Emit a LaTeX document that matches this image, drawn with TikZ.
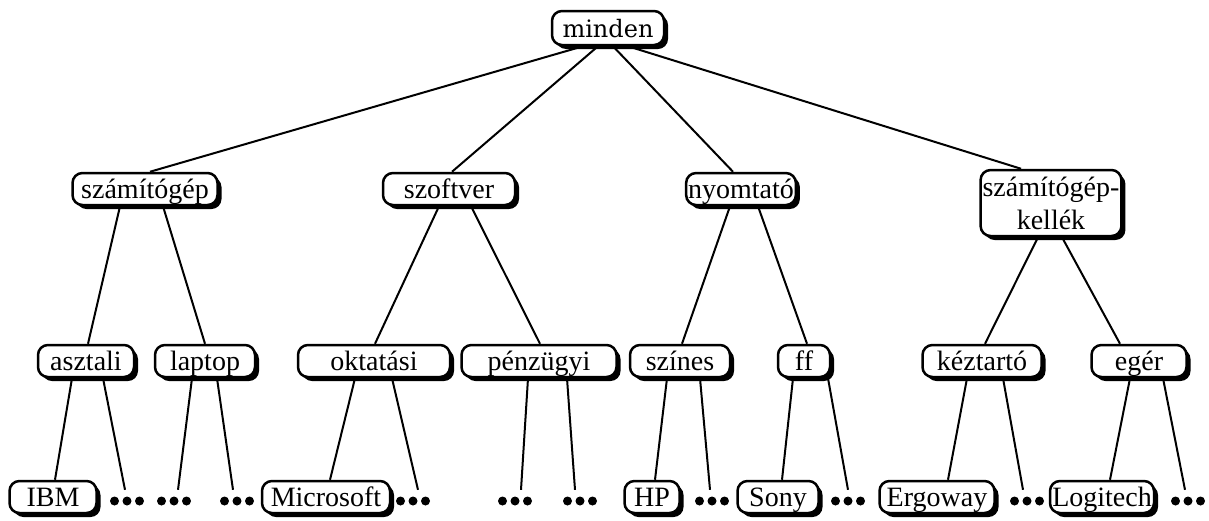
\documentclass[tikz,border=0pt]{standalone}
\usepackage{fontspec}
\setmainfont{Liberation Serif}
\newfontfamily\rootfont{DejaVu Serif}
\usetikzlibrary{shadows}
\begin{document}
\begin{tikzpicture}[x=1pt,y=-1pt,
  box/.style={draw, line width=2.5pt, rounded corners=10pt, fill=white,
    minimum height=32pt, inner sep=2pt, text depth=0pt,
    drop shadow={shadow xshift=4pt, shadow yshift=-4pt, fill=black, opacity=1},
    font=\fontsize{28}{33}\selectfont},
  dotsrow/.style={minimum width=38pt, minimum height=22pt, inner sep=0pt,
    path picture={\foreach \k in {-1,0,1}
      {\fill ([xshift=\k*12.5pt]path picture bounding box.center) circle (4.5pt);}}},
  edge/.style={line width=2pt}]
\useasboundingbox (0,0) rectangle (1209,520);

% root
\node[box, minimum width=112pt, minimum height=34pt, font=\rootfont\fontsize{24}{30}\selectfont] (minden) at (608,28) {minden};

% second level
\node[box, minimum width=145pt] (szg) at (145,189) {számítógép};
\node[box, minimum width=132pt] (szoft) at (449,189) {szoftver};
\node[box, minimum width=108pt] (nyom) at (741,189) {nyomtató};
\node[box, minimum width=127pt, minimum height=66pt, align=center] (kell) at (1051,203) {számítógép-\\kellék};

% third level
\node[box, minimum width=96pt] (aszt) at (86,361) {asztali};
\node[box, minimum width=100pt] (lap) at (205,361) {laptop};
\node[box, minimum width=152pt] (okt) at (374,361) {oktatási};
\node[box, minimum width=155pt] (penz) at (539,361) {pénzügyi};
\node[box, minimum width=100pt] (szin) at (680,361) {színes};
\node[box, minimum width=52pt] (ff) at (804,361) {ff};
\node[box, minimum width=119pt] (kez) at (982,361) {kéztartó};
\node[box, minimum width=95pt] (eger) at (1139,361) {egér};

% leaves
\node[box, minimum width=87pt] (ibm) at (53,497) {IBM};
\node[box, minimum width=128pt] (ms) at (326,497) {Microsoft};
\node[box, minimum width=55pt] (hp) at (652,497) {HP};
\node[box, minimum width=81pt] (sony) at (778,497) {Sony};
\node[box, minimum width=115pt] (ergo) at (937,497) {Ergoway};
\node[box, minimum width=104pt] (logi) at (1102,497) {Logitech};

% elided leaves
\node[dotsrow] (d1) at (127,501) {};
\node[dotsrow] (d2) at (174,501) {};
\node[dotsrow] (d3) at (237,501) {};
\node[dotsrow] (d4) at (413,501) {};
\node[dotsrow] (d5) at (515,501) {};
\node[dotsrow] (d6) at (580,501) {};
\node[dotsrow] (d7) at (712,501) {};
\node[dotsrow] (d8) at (848,501) {};
\node[dotsrow] (d9) at (1027,501) {};
\node[dotsrow] (d10) at (1188,501) {};

% root to second level
\draw[edge] ([xshift=-25pt]minden.south) -- ([xshift=5pt]szg.north);
\draw[edge] ([xshift=-10pt]minden.south) -- ([xshift=3pt]szoft.north);
\draw[edge] ([xshift=5pt]minden.south) -- ([xshift=-8pt]nyom.north);
\draw[edge] ([xshift=20pt]minden.south) -- ([xshift=-30pt]kell.north);

% second to third level
\draw[edge] ([xshift=-25pt]szg.south) -- ([xshift=2pt]aszt.north);
\draw[edge] ([xshift=18pt]szg.south) -- (lap.north);
\draw[edge] ([xshift=-10pt]szoft.south) -- ([xshift=1pt]okt.north);
\draw[edge] ([xshift=22pt]szoft.south) -- ([xshift=1pt]penz.north);
\draw[edge] ([xshift=-11pt]nyom.south) -- ([xshift=2pt]szin.north);
\draw[edge] ([xshift=17pt]nyom.south) -- ([xshift=3pt]ff.north);
\draw[edge] ([xshift=-13pt]kell.south) -- ([xshift=3pt]kez.north);
\draw[edge] ([xshift=11pt]kell.south) -- ([xshift=-19pt]eger.north);

% third level to leaves
\draw[edge] ([xshift=-14pt]aszt.south) -- ([xshift=2pt]ibm.north);
\draw[edge] ([xshift=17pt]aszt.south) -- ([xshift=-2pt]d1.north);
\draw[edge] ([xshift=-13pt]lap.south) -- ([xshift=4pt]d2.north);
\draw[edge] ([xshift=12pt]lap.south) -- ([xshift=-4pt]d3.north);
\draw[edge] ([xshift=-19pt]okt.south) -- ([xshift=4pt]ms.north);
\draw[edge] ([xshift=18pt]okt.south) -- ([xshift=5pt]d4.north);
\draw[edge] ([xshift=-11pt]penz.south) -- ([xshift=6pt]d5.north);
\draw[edge] ([xshift=28pt]penz.south) -- ([xshift=-5pt]d6.north);
\draw[edge] ([xshift=-13pt]szin.south) -- ([xshift=3pt]hp.north);
\draw[edge] ([xshift=20pt]szin.south) -- ([xshift=-2pt]d7.north);
\draw[edge] ([xshift=-11pt]ff.south) -- ([xshift=4pt]sony.north);
\draw[edge] ([xshift=24pt]ff.south) -- (d8.north);
\draw[edge] ([xshift=-15pt]kez.south) -- ([xshift=11pt]ergo.north);
\draw[edge] ([xshift=21pt]kez.south) -- ([xshift=-4pt]d9.north);
\draw[edge] ([xshift=-9pt]eger.south) -- ([xshift=8pt]logi.north);
\draw[edge] ([xshift=24pt]eger.south) -- ([xshift=-3pt]d10.north);
\end{tikzpicture}
\end{document}
